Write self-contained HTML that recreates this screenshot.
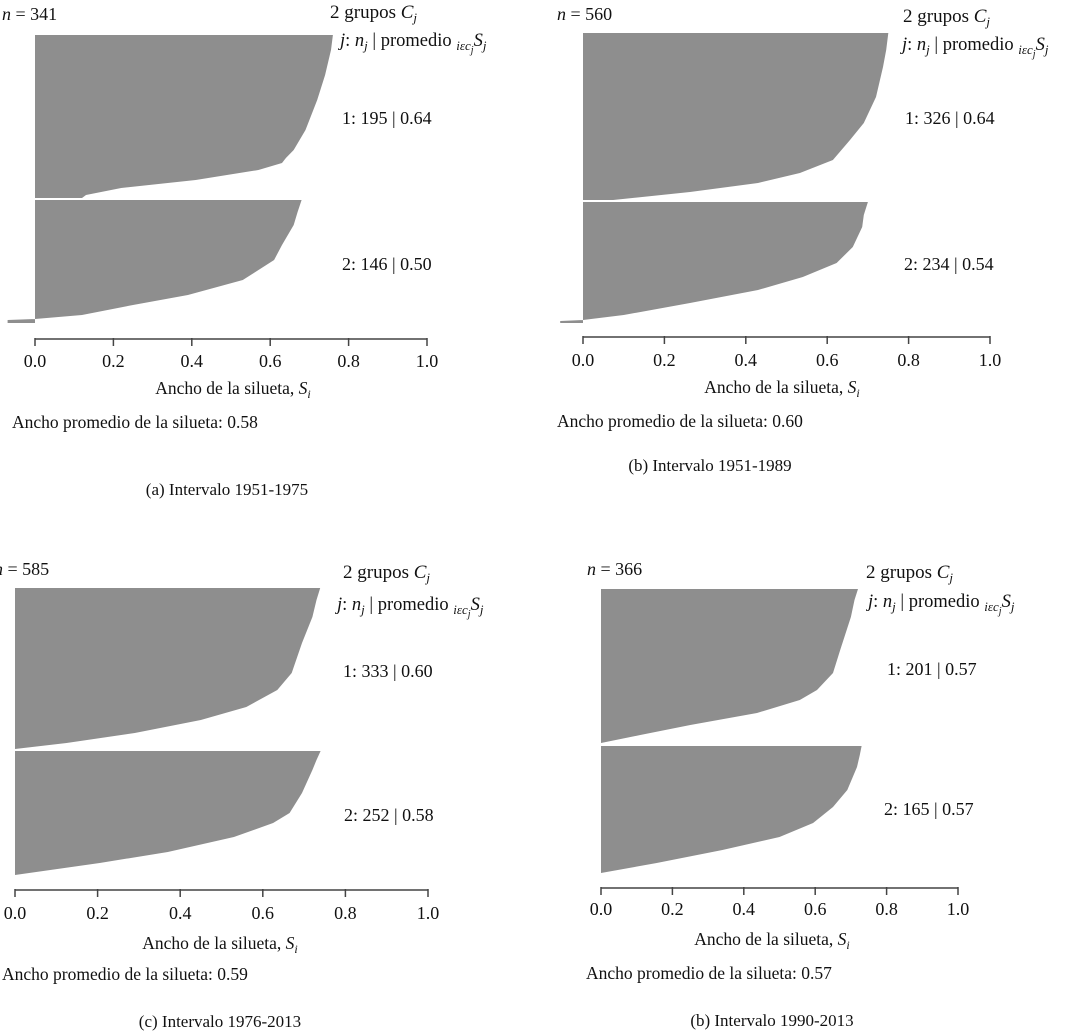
<!DOCTYPE html>
<html><head><meta charset="utf-8"><style>
html,body{margin:0;padding:0;background:#fff;}
svg{display:block;font-family:"Liberation Serif",serif;}
</style></head><body>
<svg id="fig" width="1075" height="1035" viewBox="0 0 1075 1035" xmlns="http://www.w3.org/2000/svg"></svg>
<script>
const ticks = [0.0, 0.2, 0.4, 0.6, 0.8, 1.0];
const tickLabels = ["0.0", "0.2", "0.4", "0.6", "0.8", "1.0"];

const aC1Vals = [0.76, 0.755, 0.74, 0.72, 0.69, 0.66, 0.64, 0.63, 0.57, 0.41, 0.22, 0.13, 0.12];
const aC1Rows = [35, 50, 75, 100, 130, 150, 158, 163, 170, 180, 188, 195, 198];
const aC2Vals = [0.68, 0.67, 0.66, 0.63, 0.61, 0.53, 0.39, 0.25, 0.12, 0.0, -0.07, -0.07];
const aC2Rows = [200, 212, 225, 245, 260, 280, 295, 305, 315, 319, 320, 323];

const bC1Vals = [0.75, 0.745, 0.737, 0.72, 0.69, 0.656, 0.614, 0.533, 0.43, 0.263, 0.074];
const bC1Rows = [33, 50, 67, 97, 123, 140, 160, 173, 183, 192, 200];
const bC2Vals = [0.70, 0.69, 0.686, 0.663, 0.623, 0.54, 0.43, 0.263, 0.10, 0.0, -0.056, -0.056];
const bC2Rows = [202, 215, 227, 247, 263, 277, 290, 303, 315, 320, 321, 323];

const cC1Vals = [0.739, 0.73, 0.72, 0.695, 0.67, 0.635, 0.56, 0.45, 0.29, 0.125, 0.0];
const cC1Rows = [588, 600, 617, 643, 673, 690, 707, 720, 733, 743, 749];
const cC2Vals = [0.74, 0.73, 0.72, 0.695, 0.665, 0.625, 0.53, 0.37, 0.205, 0.0];
const cC2Rows = [751, 760, 770, 793, 813, 823, 837, 852, 863, 875];

const dC1Vals = [0.72, 0.71, 0.70, 0.67, 0.65, 0.605, 0.557, 0.437, 0.25, 0.11, 0.0];
const dC1Rows = [589, 600, 617, 650, 673, 690, 700, 713, 725, 735, 743];
const dC2Vals = [0.73, 0.725, 0.717, 0.69, 0.65, 0.594, 0.50, 0.34, 0.156, 0.0];
const dC2Rows = [746, 755, 767, 790, 807, 823, 837, 850, 863, 873];

const svg = document.getElementById('fig');
const NS = 'http://www.w3.org/2000/svg';
function mk(tag, attrs, parent){
  const e = document.createElementNS(NS, tag);
  for (const k in attrs) e.setAttribute(k, attrs[k]);
  (parent || svg).appendChild(e);
  return e;
}
function txt(parent, x, y, size, html, anchor){
  const t = mk('text', {x:x, y:y, 'font-size':size, fill:'#111', 'text-anchor':anchor||'start'}, parent);
  t.innerHTML = html;
  return t;
}

const panels = [
 {key:'a', x0:35, x1:427, axisY:339, c1v:aC1Vals, c1r:aC1Rows, c2v:aC2Vals, c2r:aC2Rows,
  n:'341', nX:2, nY:20, legX:330, legY:18, jX:340, jY:46, l1:'1: 195 | 0.64', l1X:342, l1Y:124, l2:'2: 146 | 0.50', l2X:342, l2Y:270,
  tickY:367, titleX:233, titleY:394, avg:'0.58', avgX:12, avgY:428, cap:'(a) Intervalo 1951-1975', capX:227, capY:495},
 {key:'b', x0:583, x1:990, axisY:337, c1v:bC1Vals, c1r:bC1Rows, c2v:bC2Vals, c2r:bC2Rows,
  n:'560', nX:557, nY:20, legX:903, legY:22, jX:902, jY:50, l1:'1: 326 | 0.64', l1X:905, l1Y:124, l2:'2: 234 | 0.54', l2X:904, l2Y:270,
  tickY:366, titleX:782, titleY:393, avg:'0.60', avgX:557, avgY:427, cap:'(b) Intervalo 1951-1989', capX:710, capY:471},
 {key:'c', x0:15, x1:428, axisY:890, c1v:cC1Vals, c1r:cC1Rows, c2v:cC2Vals, c2r:cC2Rows,
  n:'585', nX:-6, nY:575, legX:343, legY:578, jX:337, jY:610, l1:'1: 333 | 0.60', l1X:343, l1Y:677, l2:'2: 252 | 0.58', l2X:344, l2Y:821,
  tickY:919, titleX:220, titleY:949, avg:'0.59', avgX:2, avgY:980, cap:'(c) Intervalo 1976-2013', capX:220, capY:1027},
 {key:'d', x0:601, x1:958, axisY:888, c1v:dC1Vals, c1r:dC1Rows, c2v:dC2Vals, c2r:dC2Rows,
  n:'366', nX:587, nY:575, legX:866, legY:578, jX:868, jY:607, l1:'1: 201 | 0.57', l1X:887, l1Y:675, l2:'2: 165 | 0.57', l2X:884, l2Y:815,
  tickY:915, titleX:772, titleY:945, avg:'0.57', avgX:586, avgY:979, cap:'(b) Intervalo 1990-2013', capX:772, capY:1026}
];

panels.forEach(p => {
  const g = mk('g', {});
  
  
  const xs = v => p.x0 + v * (p.x1 - p.x0);

  [[p.c1v, p.c1r, 1], [p.c2v, p.c2r, 2]].forEach(([vals, rows, ci]) => {
    let d = 'M' + xs(0) + ',' + rows[0];
    vals.forEach((v, i) => { d += ' L' + xs(v).toFixed(1) + ',' + rows[i]; });
    d += ' L' + xs(0) + ',' + rows[rows.length - 1] + ' Z';
    const path = mk('path', {d: d, fill: '#8e8e8e'}, g);
    
    
  });

  const ax = mk('line', {x1:p.x0, x2:p.x1, y1:p.axisY, y2:p.axisY, stroke:'#444', 'stroke-width':1.5}, g);
  
  
  ticks.forEach((t, i) => {
    const tk = mk('line', {x1:xs(t), x2:xs(t), y1:p.axisY - 1, y2:p.axisY + 7, stroke:'#444', 'stroke-width':1.5}, g);
    
    
    const tl = txt(g, xs(t), p.tickY, 18, tickLabels[i], 'middle');
    
    
  });

  const n = txt(g, p.nX, p.nY, 18, '<tspan font-style="italic">n</tspan> = ' + p.n);
  
  
  const lg = txt(g, p.legX, p.legY, 19, '2 grupos <tspan font-style="italic">C</tspan><tspan font-style="italic" font-size="13" dy="4">j</tspan>');
  
  
  const jl = txt(g, p.jX, p.jY, 18.5, '<tspan font-style="italic">j</tspan>: <tspan font-style="italic">n</tspan><tspan font-style="italic" font-size="13" dy="4">j</tspan><tspan dy="-4"> | promedio </tspan><tspan font-style="italic" font-size="13" dy="4">iεc</tspan><tspan font-style="italic" font-size="10" dy="3">j</tspan><tspan font-style="italic" dy="-7">S</tspan><tspan font-style="italic" font-size="13" dy="4">j</tspan>');
  
  
  const l1 = txt(g, p.l1X, p.l1Y, 18, p.l1);
  
  
  const l2 = txt(g, p.l2X, p.l2Y, 18, p.l2);
  
  
  const tt = txt(g, p.titleX, p.titleY, 17.5, 'Ancho de la silueta, <tspan font-style="italic">S</tspan><tspan font-style="italic" font-size="12" dy="4">i</tspan>', 'middle');
  
  
  const av = txt(g, p.avgX, p.avgY, 17.5, 'Ancho promedio de la silueta: ' + p.avg);
  
  
  const cp = txt(g, p.capX, p.capY, 17, p.cap, 'middle');
  
  
});
</script>
</body></html>
